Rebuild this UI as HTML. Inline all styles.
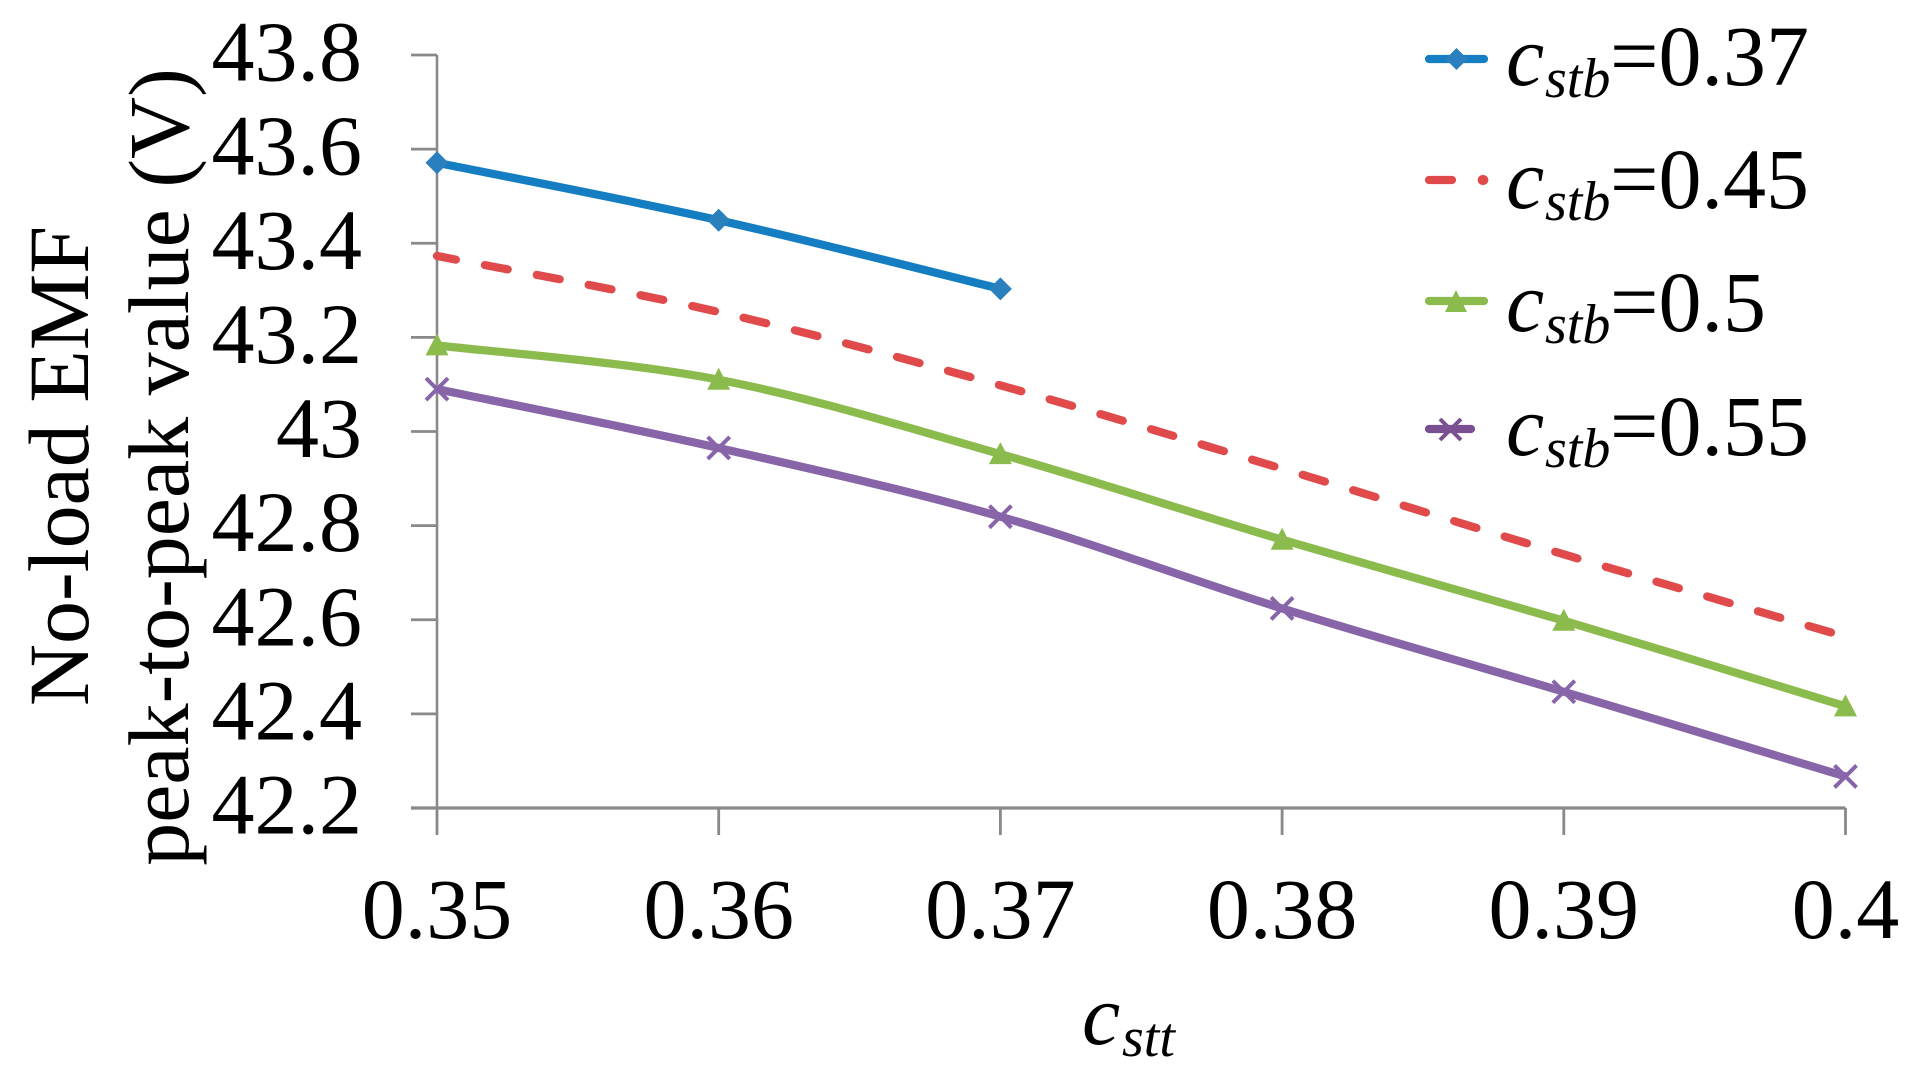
<!DOCTYPE html>
<html lang="en">
<head>
<meta charset="utf-8">
<title>No-load EMF peak-to-peak value vs cstt</title>
<style>
html,body{margin:0;padding:0;background:#fff;}
svg{display:block;}
text{font-family:"Liberation Serif","Times New Roman",serif;fill:#000;}
</style>
</head>
<body>
<svg id="chart" xmlns="http://www.w3.org/2000/svg" width="1920" height="1079" viewBox="0 0 1920 1079">
  <rect x="0" y="0" width="1920" height="1079" fill="#fff"/>
  <g id="axes"></g>
  <g id="series"></g>

  <g font-size="86">
    <text transform="translate(88,466) rotate(-90)" text-anchor="middle">No-load EMF</text>
    <text transform="translate(188,467) rotate(-90)" text-anchor="middle">peak-to-peak value (V)</text>
  </g>

  <g>
    <text x="1082" y="1044" font-size="86" font-style="italic">c</text>
    <text x="1122" y="1056" font-size="56" font-style="italic">stt</text>
  </g>

  <g>
    <g>
      <line x1="1429" y1="59" x2="1484" y2="59" stroke="#167fc3" stroke-width="8.2" stroke-linecap="round"/>
      <polygon points="1456.5,48 1467.5,59 1456.5,70 1445.5,59" fill="#2a80bd"/>
      <text x="1506" y="85" font-size="86" font-style="italic">c</text>
      <text x="1545" y="97" font-size="56" font-style="italic">stb</text>
      <text x="1610" y="85" font-size="86">=0.37</text>
    </g>
    <g>
      <line x1="1429" y1="180" x2="1452" y2="180" stroke="#e04a4a" stroke-width="8.2" stroke-linecap="round"/>
      <line x1="1482.6" y1="180" x2="1483.4" y2="180" stroke="#e04a4a" stroke-width="10" stroke-linecap="round"/>
      <text x="1506" y="208" font-size="86" font-style="italic">c</text>
      <text x="1545" y="220" font-size="56" font-style="italic">stb</text>
      <text x="1610" y="208" font-size="86">=0.45</text>
    </g>
    <g>
      <line x1="1429" y1="301" x2="1484" y2="301" stroke="#8bbb4d" stroke-width="8.2" stroke-linecap="round"/>
      <polygon points="1456,290 1467,312 1445,312" fill="#8bbb4d"/>
      <text x="1506" y="331" font-size="86" font-style="italic">c</text>
      <text x="1545" y="343" font-size="56" font-style="italic">stb</text>
      <text x="1610" y="331" font-size="86">=0.5</text>
    </g>
    <g>
      <line x1="1429" y1="429" x2="1471" y2="429" stroke="#7a5093" stroke-width="8.2" stroke-linecap="round"/>
      <path d="M1440,419 L1461,440 M1440,440 L1461,419" stroke="#7a5093" stroke-width="4" fill="none"/>
      <text x="1506" y="455" font-size="86" font-style="italic">c</text>
      <text x="1545" y="467" font-size="56" font-style="italic">stb</text>
      <text x="1610" y="455" font-size="86">=0.55</text>
    </g>
  </g>
</svg>
<script>
var categories = [0.35, 0.36, 0.37, 0.38, 0.39, 0.40];
var xTickLabels = ["0.35", "0.36", "0.37", "0.38", "0.39", "0.4"];
var yTicks = [43.8, 43.6, 43.4, 43.2, 43.0, 42.8, 42.6, 42.4, 42.2];
var yTickLabels = ["43.8", "43.6", "43.4", "43.2", "43", "42.8", "42.6", "42.4", "42.2"];
var cstb037 = [43.571, 43.449, 43.303];
var cstb045 = [43.373, 43.254, 43.098, 42.921, 42.739, 42.564];
var cstb05 = [43.183, 43.11, 42.952, 42.77, 42.598, 42.416];
var cstb055 = [43.09, 42.965, 42.819, 42.624, 42.447, 42.267];

var SVGNS = "http://www.w3.org/2000/svg";
var X0 = 437, X1 = 1845.5, Y0 = 808, Y1 = 55;
var XMIN = 0.35, XMAX = 0.40, YMIN = 42.2, YMAX = 43.8;

function xScale(v) { return X0 + (v - XMIN) / (XMAX - XMIN) * (X1 - X0); }
function yScale(v) { return Y0 - (v - YMIN) / (YMAX - YMIN) * (Y0 - Y1); }

function make(tag, attrs, parent) {
  var el = document.createElementNS(SVGNS, tag);
  for (var k in attrs) { el.setAttribute(k, attrs[k]); }
  parent.appendChild(el);
  return el;
}

function smoothPath(values) {
  var pts = values.map(function (v, i) { return [xScale(categories[i]), yScale(v)]; });
  var d = "M" + pts[0][0] + "," + pts[0][1];
  for (var i = 0; i < pts.length - 1; i++) {
    var p0 = pts[Math.max(i - 1, 0)], p1 = pts[i], p2 = pts[i + 1], p3 = pts[Math.min(i + 2, pts.length - 1)];
    var c1x = p1[0] + (p2[0] - p0[0]) / 6, c1y = p1[1] + (p2[1] - p0[1]) / 6;
    var c2x = p2[0] - (p3[0] - p1[0]) / 6, c2y = p2[1] - (p3[1] - p1[1]) / 6;
    d += " C" + c1x + "," + c1y + " " + c2x + "," + c2y + " " + p2[0] + "," + p2[1];
  }
  return d;
}

var axes = document.getElementById("axes");
var seriesGroup = document.getElementById("series");
var AXIS = "#898989";

var yLine = make("line", {x1: X0, y1: Y1, x2: X0, y2: Y0, stroke: AXIS, "stroke-width": 2.6}, axes);



var xLine = make("line", {x1: X0 - 26, y1: Y0, x2: X1, y2: Y0, stroke: AXIS, "stroke-width": 3.2}, axes);



yTicks.forEach(function (t, i) {
  var y = yScale(t);
  var tick = make("line", {x1: X0 - 26, y1: y, x2: X0, y2: y, stroke: AXIS, "stroke-width": 2.8}, axes);
  
  
  var label = make("text", {x: 362, y: y + 25.5, "font-size": 86, "text-anchor": "end"}, axes);
  label.textContent = yTickLabels[i];
  
  
});

categories.forEach(function (c, i) {
  var x = xScale(c);
  var tick = make("line", {x1: x, y1: Y0, x2: x, y2: 835, stroke: AXIS, "stroke-width": 2.8}, axes);
  
  
  var label = make("text", {x: x, y: 938, "font-size": 86, "text-anchor": "middle"}, axes);
  label.textContent = xTickLabels[i];
  
  
});

function drawLine(values, color, dash, name) {
  var attrs = {d: smoothPath(values), fill: "none", stroke: color, "stroke-width": 8.2};
  if (dash) {
    attrs["stroke-dasharray"] = dash;
    attrs["stroke-dashoffset"] = 4;
    attrs["stroke-linecap"] = "round";
  }
  var path = make("path", attrs, seriesGroup);
  
  
}

function diamondMarker(x, y) {
  var m = make("polygon", {points: (x) + "," + (y - 11.5) + " " + (x + 11.5) + "," + y + " " + x + "," + (y + 11.5) + " " + (x - 11.5) + "," + y, fill: "#2a80bd"}, seriesGroup);
  
  
}
function triangleMarker(x, y) {
  var m = make("polygon", {points: x + "," + (y - 12) + " " + (x + 11.5) + "," + (y + 10) + " " + (x - 11.5) + "," + (y + 10), fill: "#8bbb4d"}, seriesGroup);
  
  
}
function crossMarker(x, y) {
  var r = 11;
  var m = make("path", {d: "M" + (x - r) + "," + (y - r) + " L" + (x + r) + "," + (y + r) + " M" + (x - r) + "," + (y + r) + " L" + (x + r) + "," + (y - r), stroke: "#8864a8", "stroke-width": 4, fill: "none"}, seriesGroup);
  
  
}

drawLine(cstb037, "#157ec2", null, "line-cstb-037");
drawLine(cstb045, "#e04a4a", "23.3 29.5", "line-cstb-045");
drawLine(cstb05, "#8bbb4d", null, "line-cstb-05");
drawLine(cstb055, "#8864a8", null, "line-cstb-055");

cstb037.forEach(function (v, i) { diamondMarker(xScale(categories[i]), yScale(v)); });
cstb05.forEach(function (v, i) { triangleMarker(xScale(categories[i]), yScale(v)); });
cstb055.forEach(function (v, i) { crossMarker(xScale(categories[i]), yScale(v)); });
</script>
</body>
</html>
